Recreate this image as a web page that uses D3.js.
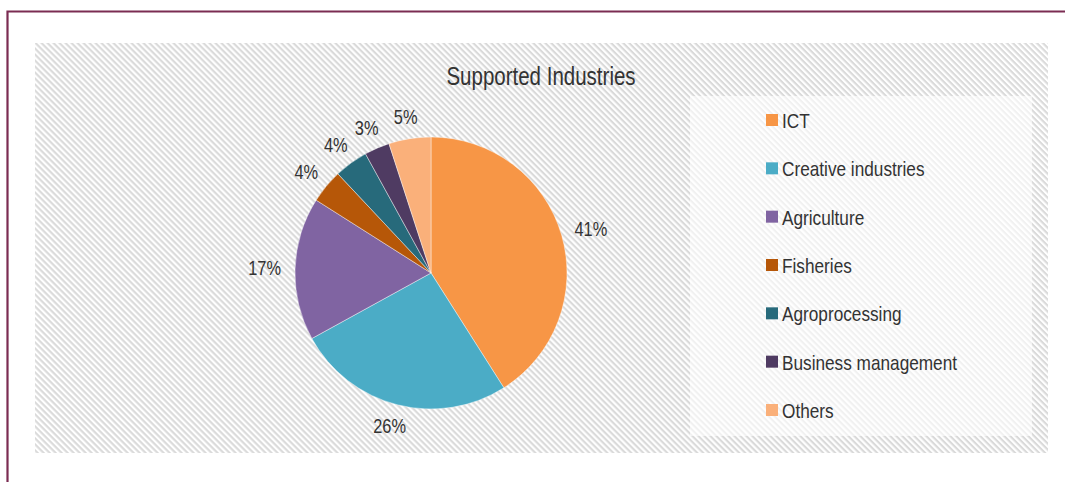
<!DOCTYPE html>
<html>
<head>
<meta charset="utf-8">
<script src="https://cdn.jsdelivr.net/npm/d3@7"></script>
<style>
  html, body { margin: 0; padding: 0; background: #fff; }
  svg { display: block; }
  text { font-family: "Liberation Sans", Arial, sans-serif; fill: #333333; }
</style>
</head>
<body>
<svg id="chart" width="1065" height="482"></svg>
<script>
// Share of supported companies by industry (percent)
const categories = ["ICT", "Creative industries", "Agriculture", "Fisheries", "Agroprocessing", "Business management", "Others"];
const shares = [41, 26, 17, 4, 4, 3, 5];
const colors = ["#f79646", "#4bacc6", "#8064a2", "#b65708", "#276a7b", "#4f3b62", "#fab07a"];
const title = "Supported Industries";

const svg = d3.select("#chart");
const NARROW = 0.82; // horizontal squeeze giving a narrow sans face

// Place a text node at (x, y) with the narrow squeeze applied
function placeNarrow(sel, x, y) {
  sel.attr("x", 0).attr("y", 0)
     .attr("transform", `translate(${x},${y}) scale(${NARROW},1)`);
}

// Hatched fills for the chart area and the legend panel
const defs = svg.append("defs");
function hatch(id, stripe) {
  const s = 4.24;
  const p = defs.append("pattern")
    .attr("id", id)
    .attr("patternUnits", "userSpaceOnUse")
    .attr("width", s).attr("height", s)
    .attr("patternTransform", "rotate(45)");
  p.append("rect").attr("width", s).attr("height", s).attr("fill", "#fff");
  p.append("rect").attr("width", s).attr("height", s / 2).attr("fill", stripe);
}
hatch("hatchMain", "#dadada");
hatch("hatchLegend", "#f1f1f1");

// Outer frame (left and top edges)
svg.append("path")
  .attr("d", "M7.5,482 L7.5,11.5 L1065,11.5")
  .attr("fill", "none")
  .attr("stroke", "#7b2c52")
  .attr("stroke-width", 2.2);

// Chart area
const area = { x: 35, y: 43, w: 1013, h: 410 };
svg.append("rect")
  .attr("x", area.x).attr("y", area.y)
  .attr("width", area.w).attr("height", area.h)
  .attr("fill", "url(#hatchMain)");

// Title
svg.append("text")
  .attr("text-anchor", "middle")
  .attr("font-size", 25)
  .text(title)
  .call(placeNarrow, 541, 85);

// Pie
const cx = 431, cy = 273, r = 136;
const data = categories.map((c, i) => ({ name: c, value: shares[i], color: colors[i] }));
const pie = d3.pie().value(d => d.value).sort(null);
const arcs = pie(data);
const arc = d3.arc().innerRadius(0).outerRadius(r);

const g = svg.append("g").attr("transform", `translate(${cx},${cy})`);
g.selectAll("path.slice")
  .data(arcs)
  .join("path")
  .attr("class", "slice")
  .attr("d", arc)
  .attr("fill", d => d.data.color)
  .attr("stroke", "#ffffff")
  .attr("stroke-width", 0.6)
  .attr("stroke-opacity", 0.7);

// Outside-end data labels: nearest edge of the label box sits just past the rim
const labelGap = 14;
g.selectAll("text.lbl")
  .data(arcs)
  .join("text")
  .attr("class", "lbl")
  .attr("font-size", 20)
  .attr("text-anchor", "middle")
  .attr("dominant-baseline", "central")
  .text(d => d.data.value + "%")
  .each(function (d) {
    const a = (d.startAngle + d.endAngle) / 2;
    const bb = this.getBBox();
    const w = bb.width * NARROW, h = bb.height * 0.75;
    const s = Math.sin(a), c = Math.cos(a);
    const px = s * (r + labelGap) + s * w / 2;
    const py = -c * (r + labelGap) - c * h / 2;
    d3.select(this).call(placeNarrow, px, py);
  });

// Legend panel
const leg = { x: 690, y: 96, w: 342, h: 340 };
svg.append("rect")
  .attr("x", leg.x).attr("y", leg.y)
  .attr("width", leg.w).attr("height", leg.h)
  .attr("fill", "url(#hatchLegend)");

const legendY = d3.scalePoint()
  .domain(categories)
  .range([120, 410]);

const items = svg.append("g").selectAll("g")
  .data(data)
  .join("g")
  .attr("transform", d => `translate(766,${legendY(d.name)})`);

items.append("rect")
  .attr("x", 0).attr("y", -6)
  .attr("width", 12).attr("height", 12)
  .attr("fill", d => d.color);

items.append("text")
  .attr("dominant-baseline", "central")
  .attr("font-size", 21)
  .text(d => d.name)
  .call(placeNarrow, 16, 1);
</script>
</body>
</html>
